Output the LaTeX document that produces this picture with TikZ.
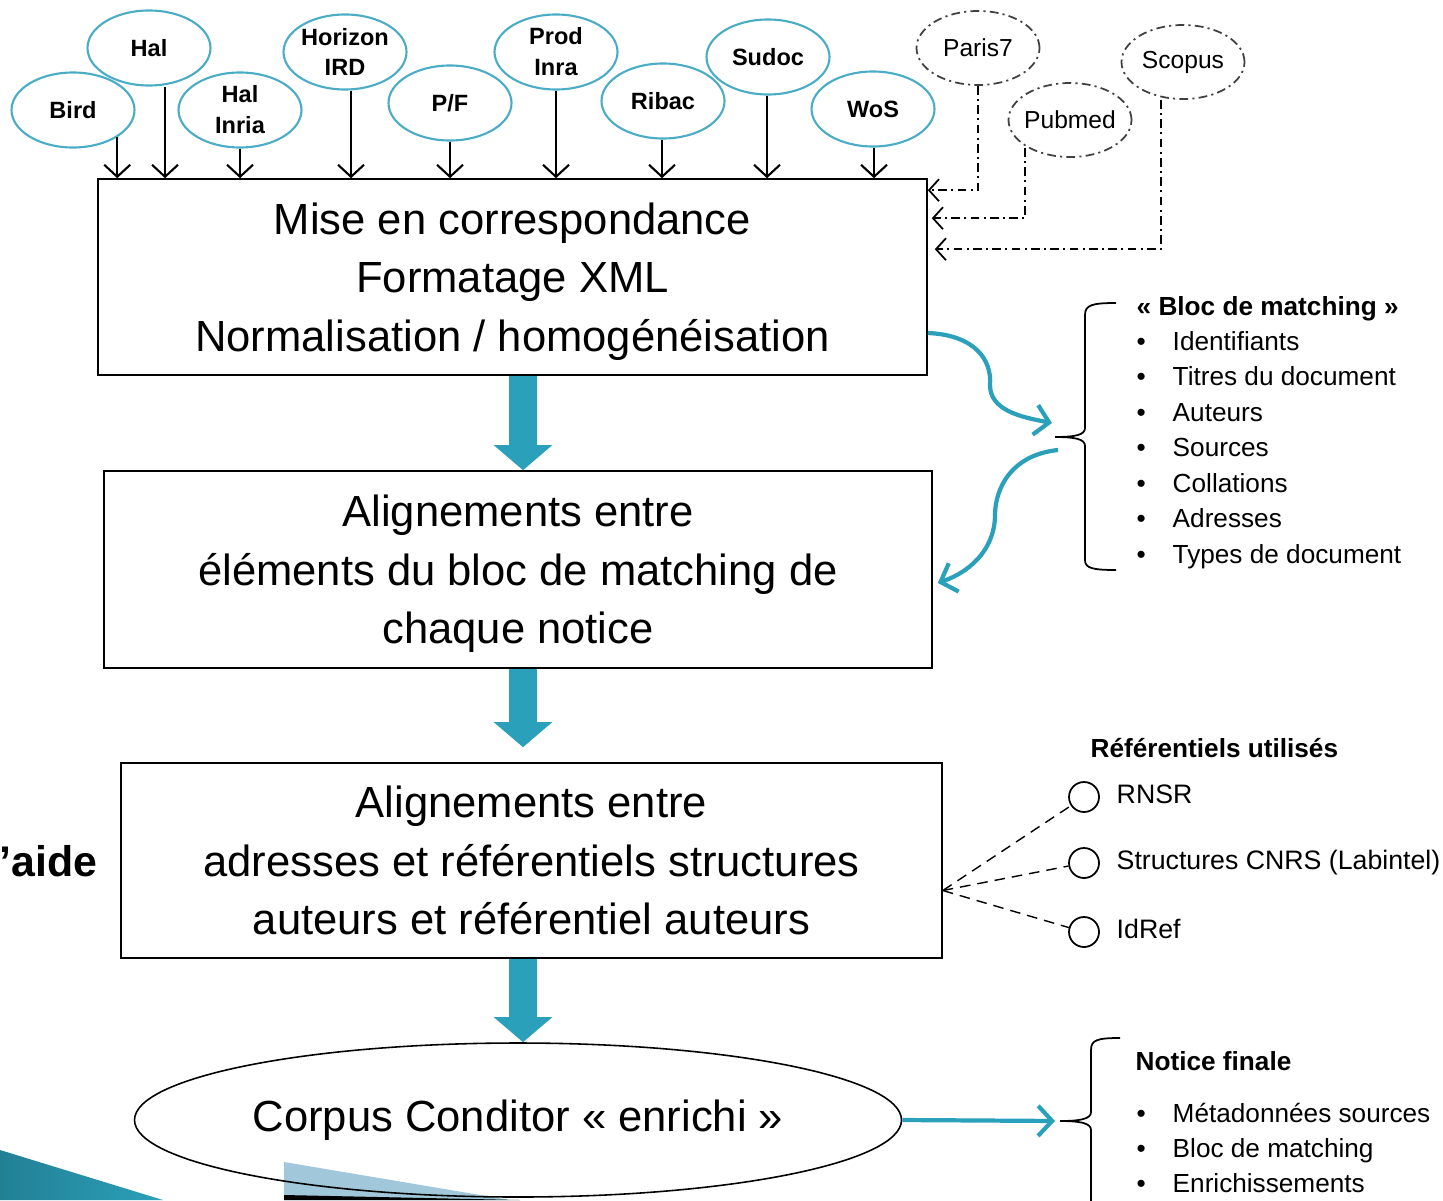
\documentclass[tikz,border=0pt]{standalone}
\usepackage{fontspec}
\setmainfont{Liberation Sans}
\usetikzlibrary{arrows.meta}
\usetikzlibrary{shapes.geometric}
\usetikzlibrary{positioning}
\definecolor{cblue}{RGB}{75,172,198}
\definecolor{tblue}{RGB}{43,160,186}
\definecolor{pblue}{RGB}{160,200,218}
\tikzset{src/.style = {ellipse, draw=cblue, line width=0.6pt, inner sep=-1mm, minimum width=12.3mm, minimum height=7.5mm, align=center, font=\fontsize{6.7}{8.8}\selectfont\bfseries}}
\tikzset{extsrc/.style = {ellipse, draw=black!75, dash pattern=on 2.5pt off 1.2pt on 0.6pt off 1.2pt, line width=0.5pt, inner sep=-1mm, minimum width=12.3mm, minimum height=7.4mm, font=\fontsize{7}{8}\selectfont}}
\tikzset{stage/.style = {draw, line width=0.45pt, align=center, inner sep=0, font=\fontsize{12.4}{16.6}\selectfont}}
\tikzset{feed/.style = {line width=0.6pt, -{Straight Barb[length=1.2mm, width=2.6mm]}}}
\tikzset{extfeed/.style = {line width=0.5pt, dash pattern=on 2.5pt off 1.2pt on 0.6pt off 1.2pt, -{Straight Barb[length=1mm, width=2.2mm]}}}
\tikzset{bigarr/.style = {tblue, line width=2.8mm, -{Triangle[length=2.5mm, width=5.7mm]}}}
\tikzset{swing/.style = {tblue, line width=1.2pt, -{Straight Barb[length=1.4mm, width=3mm]}}}
\tikzset{small/.style = {anchor=base west, inner sep=0, font=\fontsize{7.45}{9}\selectfont}}
\tikzset{smallhead/.style = {anchor=base west, inner sep=0, font=\fontsize{7.45}{9}\selectfont\bfseries}}
\tikzset{refcirc/.style = {circle, draw, line width=0.5pt, inner sep=0, minimum size=3mm}}
\tikzset{refline/.style = {densely dashed, line width=0.4pt}}

\begin{document}
\begin{tikzpicture}[x=0.1mm, y=0.1mm]
    \useasboundingbox (0,0) rectangle (1443,-1200);

    % slide decoration
    \shade [left color=tblue!80!black, right color=tblue] (0,-1150) -- (163,-1200) -- (0,-1200) -- cycle;
    \fill [pblue] (284,-1162) -- (510,-1200) -- (284,-1200) -- cycle;
    \fill [black] (284,-1195) -- (520,-1200) -- (284,-1200) -- cycle;

    % sources
    \node [src] (bird) at (73,-110) {Bird};
    \node [src] (hal) at (149,-48) {Hal};
    \node [src] (halinria) at (240,-110) {Hal\\Inria};
    \node [src] (horizon) at (345,-52) {Horizon\\IRD};
    \node [src] (pf) at (450,-103) {P/F};
    \node [src] (prodinra) at (556,-52) {Prod\\Inra};
    \node [src] (ribac) at (663,-101) {Ribac};
    \node [src] (sudoc) at (768,-57) {Sudoc};
    \node [src] (wos) at (873,-109) {WoS};

    \node [extsrc] (paris) at (978,-48) {Paris7};
    \node [extsrc] (pubmed) at (1070,-120) {Pubmed};
    \node [extsrc] (scopus) at (1183,-62) {Scopus};

    % chain
    \node [stage, minimum width=82.9mm, minimum height=19.6mm] (corresp) at (512.5,-277)
      {Mise en correspondance\\Formatage XML\\\smash{Normalisation / homogénéisation}};
    \node [stage, minimum width=82.8mm, minimum height=19.7mm] (alignbloc) at (518,-569.5)
      {Alignements entre\\éléments du bloc de matching de\\\smash{chaque notice}};
    \node [stage, minimum width=82.1mm, minimum height=19.5mm] (alignref) at (531.5,-860.5)
      {Alignements entre\\adresses et référentiels structures\\auteurs et référentiel auteurs};
    \node [ellipse, draw, line width=0.45pt, inner sep=0, minimum width=76.7mm, minimum height=15.4mm,
      font=\fontsize{12.4}{14}\selectfont] (corpus) at (518,-1120) {Corpus Conditor « enrichi »};

    \node [anchor=base east, inner sep=0, font=\fontsize{12.2}{14}\selectfont\bfseries] (aide) at (98,-876) {’aide};

    \foreach \s/\a/\d in {bird/south east/0, hal/south/1.6, halinria/south/0, horizon/south/0.6, pf/south/0,
      prodinra/south/0, ribac/south/-0.1, sudoc/south/-0.1, wos/south/0.1}
      \draw [feed] ([xshift=\d mm]\s.\a) -- ([xshift=\d mm]\s.\a |- corresp.north);

    \draw [extfeed] (paris.south) |- ([yshift=-1.2mm]corresp.north east);
    \draw [extfeed] ([xshift=-4.5mm, yshift=1mm]pubmed.south) |- ([xshift=0.4mm, yshift=-4mm]corresp.north east);
    \draw [extfeed] ([xshift=-2.2mm]scopus.south) |- ([xshift=0.7mm, yshift=-7.1mm]corresp.north east);

    \coordinate (ax) at (523,0);
    \draw [bigarr] (ax |- corresp.south) -- (ax |- alignbloc.north);
    \draw [bigarr, shorten >=1.5mm] (ax |- alignbloc.south) -- (ax |- alignref.north);
    \draw [bigarr] (ax |- alignref.south) -- (ax |- corpus.north);

    % bloc de matching
    \coordinate (bmtip) at (1055,-437);
    \draw [line width=0.5pt] (1116,-303) .. controls (1092,-303) and (1085,-305) .. (1085,-315) -- (1085,-428)
      .. controls (1085,-435) and (1075,-437) .. (bmtip) .. controls (1075,-437) and (1085,-439) .. (1085,-446)
      -- (1085,-560) .. controls (1085,-568) and (1092,-570) .. (1116,-570);
    \node [smallhead] (bmhead) at (1136,-315) {« Bloc de matching »};
    \foreach \t [count=\i from 0] in {Identifiants, Titres du document, Auteurs, Sources, Collations, Adresses, Types de document} {
      \node [small] (bmb\i) at (1136,{-350-35.5*\i}) {•};
      \node [small] (bm\i) at (1172,{-350-35.5*\i}) {\t};
    }
    \draw [swing] ([yshift=-5.6mm]corresp.east) .. controls (975,-335) and (992,-360) .. (990,-385)
      .. controls (990,-410) and (1020,-417) .. ([xshift=-0.3mm, yshift=1.4mm]bmtip);
    \draw [swing] ([xshift=0.3mm, yshift=-1.3mm]bmtip) .. controls (1010,-455) and (995,-490) .. (995,-515)
      .. controls (995,-545) and (975,-570) .. ([xshift=0.5mm, yshift=-1.35mm]alignbloc.east);

    % referentiels
    \node [smallhead] (refhead) at (1090,-757) {Référentiels utilisés};
    \coordinate (fan) at ([yshift=-3mm]alignref.east);
    \foreach \t/\y [count=\i] in {RNSR/797, Structures CNRS (Labintel)/863, IdRef/932} {
      \node [refcirc] (rc\i) at (1084,-\y) {};
      \node [small, font=\fontsize{7.6}{9}\selectfont] (rt\i) at (1116,{-\y-6.5}) {\t};
      \draw [refline] (fan) -- (rc\i);
    }

    % notice finale
    \coordinate (nftip) at (1060,-1121);
    \draw [line width=0.5pt] (1120,-1038) .. controls (1097,-1038) and (1091,-1040) .. (1091,-1050) -- (1091,-1112)
      .. controls (1091,-1119) and (1080,-1121) .. (nftip) .. controls (1080,-1121) and (1091,-1123) .. (1091,-1130)
      -- (1091,-1210);
    \draw [swing, shorten >=0.5mm] (corpus.east) -- (nftip);
    \node [smallhead] (nfhead) at (1135,-1070) {Notice finale};
    \foreach \t [count=\i from 0] in {Métadonnées sources, Bloc de matching, Enrichissements} {
      \node [small] (nfb\i) at (1136,{-1122-35*\i}) {•};
      \node [small] (nf\i) at (1172,{-1122-35*\i}) {\t};
    }
  \end{tikzpicture}
\end{document}
